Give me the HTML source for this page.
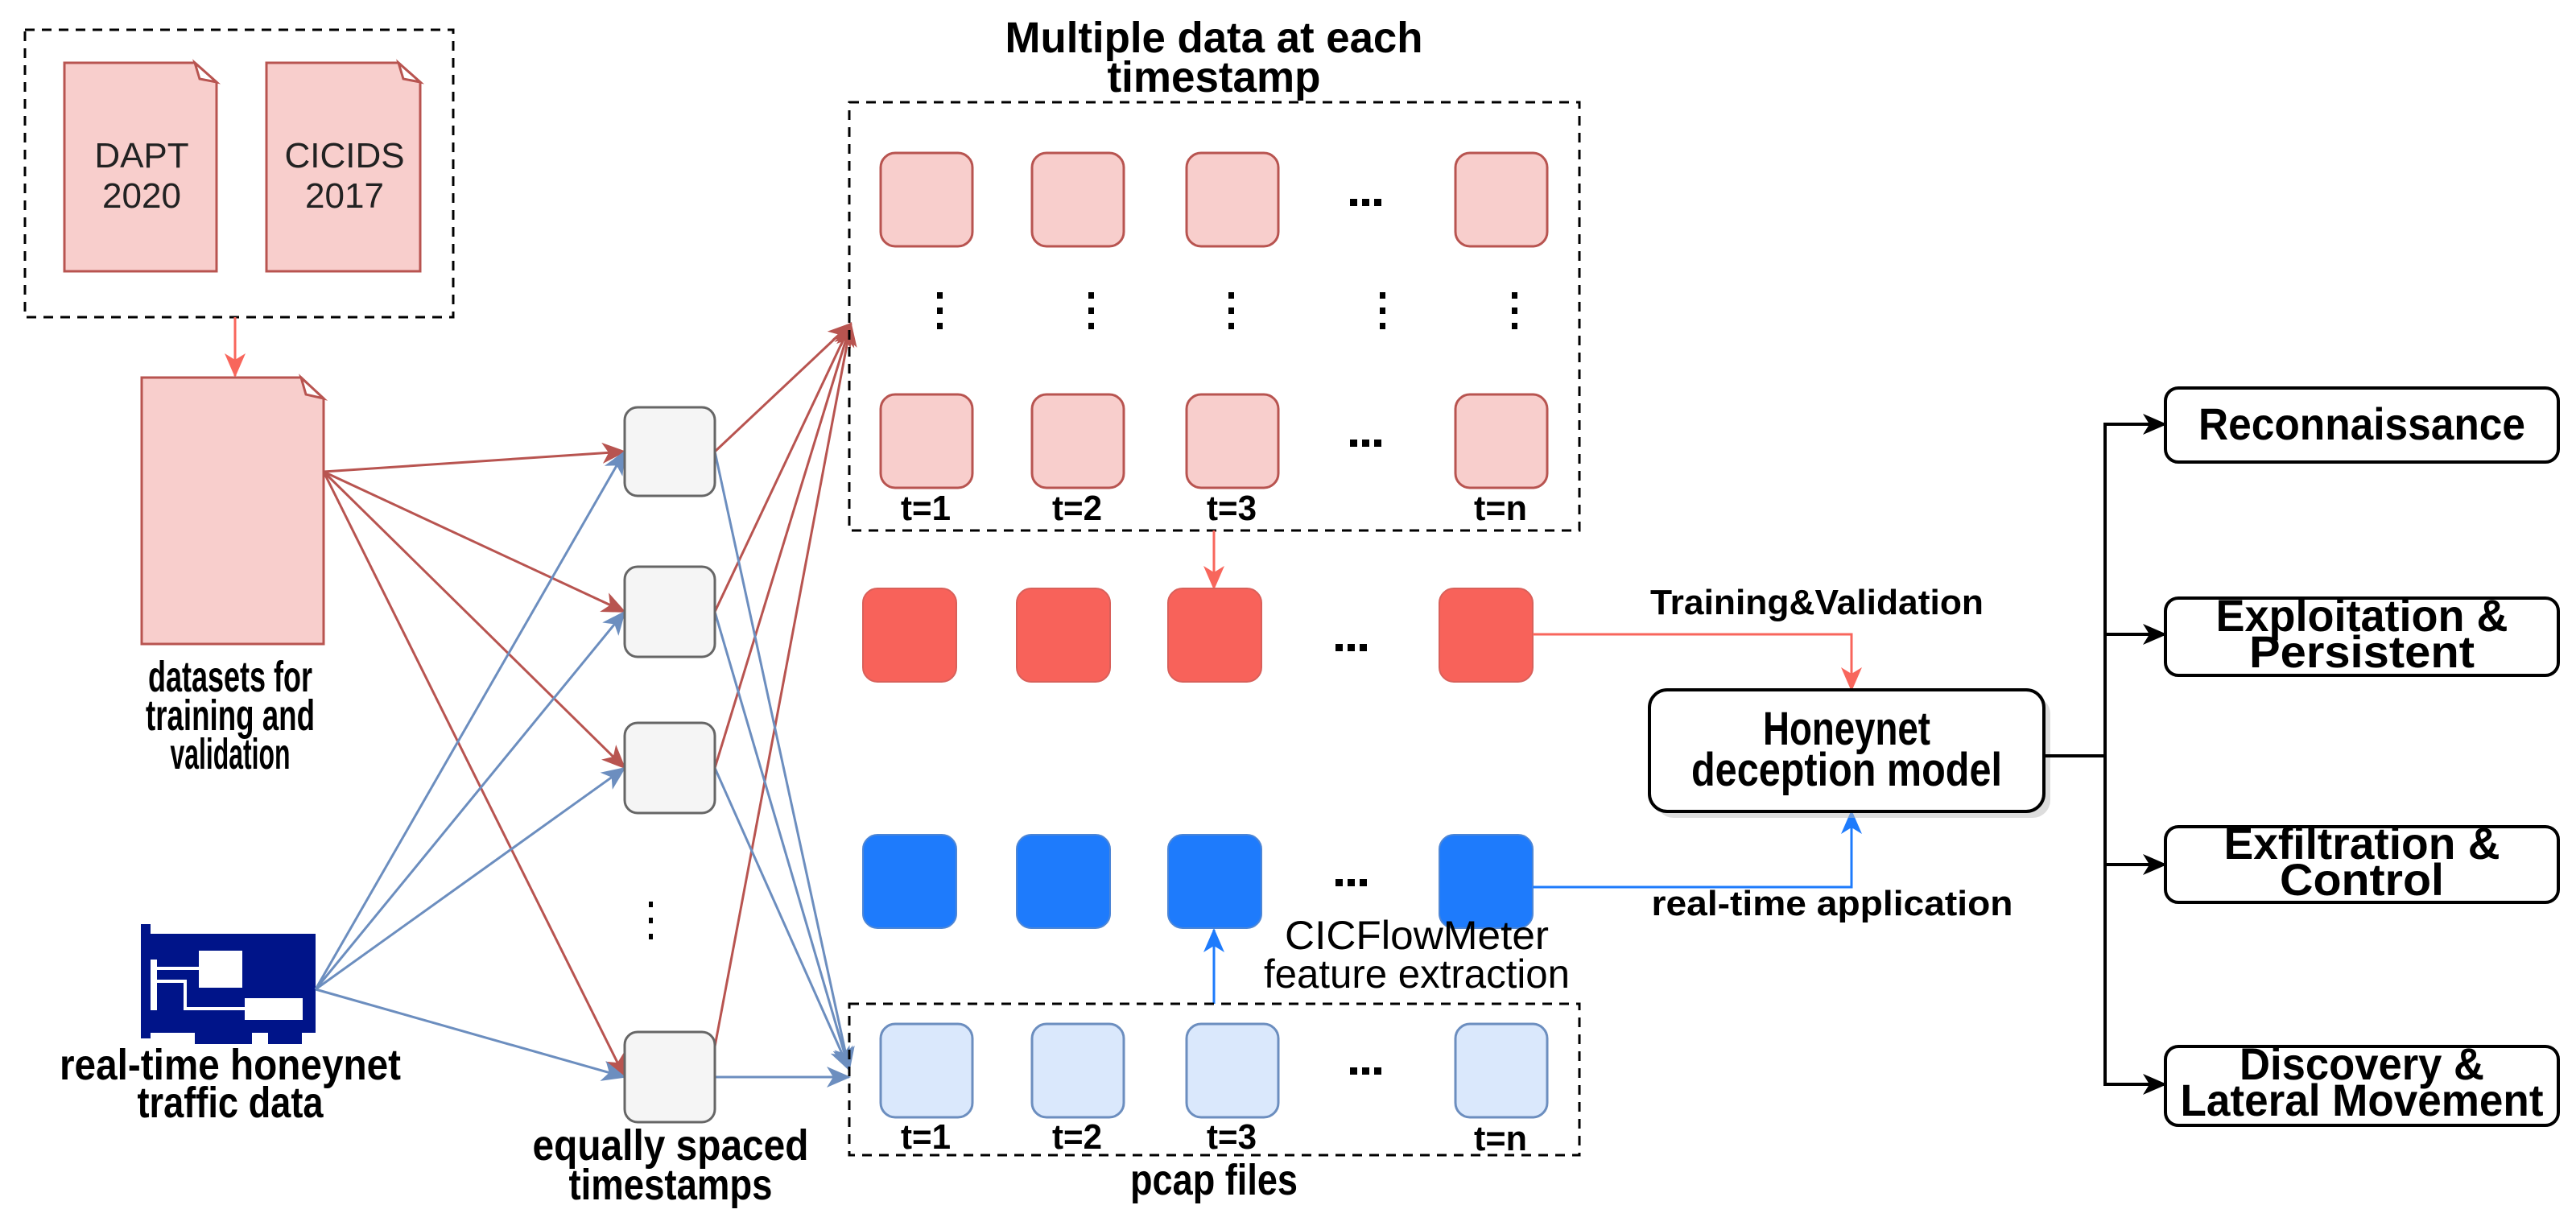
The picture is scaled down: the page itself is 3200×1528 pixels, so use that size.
<!DOCTYPE html>
<html><head><meta charset="utf-8"><style>
html,body{margin:0;padding:0;background:#fff;}
svg{display:block;}
text{font-family:"Liberation Sans",sans-serif;}
.b{font-weight:bold;}
</style></head><body>
<svg width="3200" height="1528" viewBox="0 0 3200 1528" xmlns="http://www.w3.org/2000/svg">
<defs>
<marker id="ar" markerWidth="30" markerHeight="26" refX="28" refY="13" orient="auto" markerUnits="userSpaceOnUse" viewBox="0 0 30 26"><path d="M0,0 L30,13 L0,26 L8,13 Z" fill="#b85450"/></marker>
<marker id="ab" markerWidth="30" markerHeight="26" refX="28" refY="13" orient="auto" markerUnits="userSpaceOnUse" viewBox="0 0 30 26"><path d="M0,0 L30,13 L0,26 L8,13 Z" fill="#6c8ebf"/></marker>
<marker id="arl" markerWidth="30" markerHeight="26" refX="28" refY="13" orient="auto" markerUnits="userSpaceOnUse" viewBox="0 0 30 26"><path d="M0,0 L30,13 L0,26 L8,13 Z" fill="#f8665c"/></marker>
<marker id="abl" markerWidth="30" markerHeight="26" refX="28" refY="13" orient="auto" markerUnits="userSpaceOnUse" viewBox="0 0 30 26"><path d="M0,0 L30,13 L0,26 L8,13 Z" fill="#1e7bfc"/></marker>
<marker id="ak" markerWidth="30" markerHeight="26" refX="28" refY="13" orient="auto" markerUnits="userSpaceOnUse" viewBox="0 0 30 26"><path d="M0,0 L30,13 L0,26 L8,13 Z" fill="#000"/></marker>
</defs>

<rect x="31" y="37" width="532" height="357" fill="none" stroke="#000" stroke-width="3" stroke-dasharray="12,9"/>
<path d="M80,78 H242 L269,102 V337 H80 Z" fill="#f8cecc" stroke="#b85450" stroke-width="3"/>
<path d="M242,78 L269,102 L248,98 Z" fill="#fff" stroke="#b85450" stroke-width="3"/>
<path d="M331,78 H495 L522,102 V337 H331 Z" fill="#f8cecc" stroke="#b85450" stroke-width="3"/>
<path d="M495,78 L522,102 L501,98 Z" fill="#fff" stroke="#b85450" stroke-width="3"/>
<text x="176" y="208" font-size="44" text-anchor="middle" fill="#222">DAPT</text>
<text x="176" y="258" font-size="44" text-anchor="middle" fill="#222">2020</text>
<text x="428" y="208" font-size="44" text-anchor="middle" fill="#222">CICIDS</text>
<text x="428" y="258" font-size="44" text-anchor="middle" fill="#222">2017</text>
<line x1="292" y1="394" x2="292" y2="467" stroke="#f8665c" stroke-width="3" marker-end="url(#arl)"/>

<path d="M176,469 H374 L402,495 V800 H176 Z" fill="#f8cecc" stroke="#b85450" stroke-width="3"/>
<path d="M374,469 L402,495 L380,490 Z" fill="#fff" stroke="#b85450" stroke-width="3"/>
<text class="b" x="286" y="859" font-size="54" text-anchor="middle" textLength="204" lengthAdjust="spacingAndGlyphs">datasets for</text>
<text class="b" x="286" y="907" font-size="54" text-anchor="middle" textLength="210" lengthAdjust="spacingAndGlyphs">training and</text>
<text class="b" x="286" y="955" font-size="54" text-anchor="middle" textLength="149" lengthAdjust="spacingAndGlyphs">validation</text>

<g fill="#001489">
<rect x="175" y="1148" width="12" height="142"/>
<rect x="187" y="1160" width="205" height="123"/>
<rect x="242" y="1280" width="71" height="17"/>
<rect x="333" y="1280" width="42" height="17"/>
</g>
<g fill="#fff">
<rect x="247" y="1181" width="54" height="46"/>
<rect x="304" y="1240" width="72" height="27"/>
<rect x="187" y="1192" width="8" height="63"/>
<rect x="195" y="1201" width="52" height="4"/>
<rect x="195" y="1217" width="37" height="4"/>
<rect x="228" y="1217" width="4" height="38"/>
<rect x="228" y="1251" width="76" height="4"/>
</g>
<text class="b" x="286" y="1341" font-size="54" text-anchor="middle" textLength="424" lengthAdjust="spacingAndGlyphs">real-time honeynet</text>
<text class="b" x="286" y="1388" font-size="54" text-anchor="middle" textLength="231" lengthAdjust="spacingAndGlyphs">traffic data</text>

<g stroke="#b85450" stroke-width="3" fill="none">
<line x1="402" y1="586" x2="776" y2="561" marker-end="url(#ar)"/>
<line x1="402" y1="586" x2="776" y2="760" marker-end="url(#ar)"/>
<line x1="402" y1="586" x2="776" y2="954" marker-end="url(#ar)"/>
<line x1="402" y1="586" x2="776" y2="1338" marker-end="url(#ar)"/>
</g>
<g stroke="#6c8ebf" stroke-width="3" fill="none">
<line x1="392" y1="1229" x2="776" y2="561" marker-end="url(#ab)"/>
<line x1="392" y1="1229" x2="776" y2="760" marker-end="url(#ab)"/>
<line x1="392" y1="1229" x2="776" y2="954" marker-end="url(#ab)"/>
<line x1="392" y1="1229" x2="776" y2="1338" marker-end="url(#ab)"/>
</g>
<g stroke="#b85450" stroke-width="3" fill="none">
<line x1="888" y1="561" x2="1057" y2="402" marker-end="url(#ar)"/>
<line x1="888" y1="760" x2="1057" y2="402" marker-end="url(#ar)"/>
<line x1="888" y1="954" x2="1057" y2="402" marker-end="url(#ar)"/>
<line x1="888" y1="1300" x2="1057" y2="402" marker-end="url(#ar)"/>
</g>
<g stroke="#6c8ebf" stroke-width="3" fill="none">
<line x1="888" y1="561" x2="1055" y2="1329" marker-end="url(#ab)"/>
<line x1="888" y1="760" x2="1055" y2="1329" marker-end="url(#ab)"/>
<line x1="888" y1="954" x2="1055" y2="1329" marker-end="url(#ab)"/>
<line x1="888" y1="1338" x2="1055" y2="1338" marker-end="url(#ab)"/>
</g>

<g fill="#f5f5f5" stroke="#666" stroke-width="3">
<rect x="776" y="506" width="112" height="110" rx="16"/>
<rect x="776" y="704" width="112" height="112" rx="16"/>
<rect x="776" y="898" width="112" height="112" rx="16"/>
<rect x="776" y="1282" width="112" height="112" rx="16"/>
</g>
<g fill="#000"><rect x="806" y="1120" width="5" height="7"/><rect x="806" y="1140" width="5" height="7"/><rect x="806" y="1160" width="5" height="7"/></g>
<text class="b" x="833" y="1441" font-size="54" text-anchor="middle" textLength="343" lengthAdjust="spacingAndGlyphs">equally spaced</text>
<text class="b" x="833" y="1490" font-size="54" text-anchor="middle" textLength="253" lengthAdjust="spacingAndGlyphs">timestamps</text>

<text class="b" x="1508" y="65" font-size="54" text-anchor="middle" textLength="519" lengthAdjust="spacingAndGlyphs">Multiple data at each</text>
<text class="b" x="1508" y="114" font-size="54" text-anchor="middle" textLength="265" lengthAdjust="spacingAndGlyphs">timestamp</text>
<rect x="1055" y="127" width="907" height="532" fill="none" stroke="#000" stroke-width="3" stroke-dasharray="12,9"/>
<g fill="#f8cecc" stroke="#b85450" stroke-width="3">
<rect x="1094" y="190" width="114" height="116" rx="18"/><rect x="1282" y="190" width="114" height="116" rx="18"/><rect x="1474" y="190" width="114" height="116" rx="18"/><rect x="1808" y="190" width="114" height="116" rx="18"/>
<rect x="1094" y="490" width="114" height="116" rx="18"/><rect x="1282" y="490" width="114" height="116" rx="18"/><rect x="1474" y="490" width="114" height="116" rx="18"/><rect x="1808" y="490" width="114" height="116" rx="18"/>
</g>
<g fill="#000">
<rect x="1677" y="247" width="9" height="9"/><rect x="1692" y="247" width="9" height="9"/><rect x="1707" y="247" width="9" height="9"/>
<rect x="1677" y="546" width="9" height="9"/><rect x="1692" y="546" width="9" height="9"/><rect x="1707" y="546" width="9" height="9"/>
</g>
<g fill="#000">
<rect x="1164" y="363" width="7" height="8"/><rect x="1164" y="382" width="7" height="8"/><rect x="1164" y="401" width="7" height="8"/>
<rect x="1352" y="363" width="7" height="8"/><rect x="1352" y="382" width="7" height="8"/><rect x="1352" y="401" width="7" height="8"/>
<rect x="1526" y="363" width="7" height="8"/><rect x="1526" y="382" width="7" height="8"/><rect x="1526" y="401" width="7" height="8"/>
<rect x="1714" y="363" width="7" height="8"/><rect x="1714" y="382" width="7" height="8"/><rect x="1714" y="401" width="7" height="8"/>
<rect x="1878" y="363" width="7" height="8"/><rect x="1878" y="382" width="7" height="8"/><rect x="1878" y="401" width="7" height="8"/>
</g>
<g font-size="44" text-anchor="middle">
<text class="b" x="1150" y="646" textLength="62" lengthAdjust="spacingAndGlyphs">t=1</text><text class="b" x="1338" y="646" textLength="62" lengthAdjust="spacingAndGlyphs">t=2</text><text class="b" x="1530" y="646" textLength="62" lengthAdjust="spacingAndGlyphs">t=3</text><text class="b" x="1864" y="646" textLength="66" lengthAdjust="spacingAndGlyphs">t=n</text>
</g>
<line x1="1508" y1="659" x2="1508" y2="731" stroke="#f8665c" stroke-width="3" marker-end="url(#arl)"/>

<g fill="#f8625a" stroke="#d9605a" stroke-width="2">
<rect x="1072" y="731" width="116" height="116" rx="18"/><rect x="1263" y="731" width="116" height="116" rx="18"/><rect x="1451" y="731" width="116" height="116" rx="18"/><rect x="1788" y="731" width="116" height="116" rx="18"/>
</g>
<g fill="#000"><rect x="1659" y="800" width="9" height="9"/><rect x="1674" y="800" width="9" height="9"/><rect x="1689" y="800" width="9" height="9"/></g>
<g fill="#1e7bfc" stroke="#4d86d6" stroke-width="2">
<rect x="1072" y="1037" width="116" height="116" rx="18"/><rect x="1263" y="1037" width="116" height="116" rx="18"/><rect x="1451" y="1037" width="116" height="116" rx="18"/><rect x="1788" y="1037" width="116" height="116" rx="18"/>
</g>
<g fill="#000"><rect x="1659" y="1092" width="9" height="9"/><rect x="1674" y="1092" width="9" height="9"/><rect x="1689" y="1092" width="9" height="9"/></g>
<line x1="1508" y1="1247" x2="1508" y2="1155" stroke="#1e7bfc" stroke-width="3" marker-end="url(#abl)"/>
<text x="1760" y="1179" font-size="50" text-anchor="middle" textLength="328" lengthAdjust="spacingAndGlyphs">CICFlowMeter</text>
<text x="1760" y="1227" font-size="50" text-anchor="middle" textLength="380" lengthAdjust="spacingAndGlyphs">feature extraction</text>

<rect x="1055" y="1247" width="907" height="188" fill="none" stroke="#000" stroke-width="3" stroke-dasharray="12,9"/>
<g fill="#dae8fc" stroke="#6c8ebf" stroke-width="3">
<rect x="1094" y="1272" width="114" height="116" rx="18"/><rect x="1282" y="1272" width="114" height="116" rx="18"/><rect x="1474" y="1272" width="114" height="116" rx="18"/><rect x="1808" y="1272" width="114" height="116" rx="18"/>
</g>
<g fill="#000"><rect x="1677" y="1326" width="9" height="9"/><rect x="1692" y="1326" width="9" height="9"/><rect x="1707" y="1326" width="9" height="9"/></g>
<g font-size="44" text-anchor="middle">
<text class="b" x="1150" y="1427" textLength="62" lengthAdjust="spacingAndGlyphs">t=1</text><text class="b" x="1338" y="1427" textLength="62" lengthAdjust="spacingAndGlyphs">t=2</text><text class="b" x="1530" y="1427" textLength="62" lengthAdjust="spacingAndGlyphs">t=3</text><text class="b" x="1864" y="1429" textLength="66" lengthAdjust="spacingAndGlyphs">t=n</text>
</g>
<text class="b" x="1508" y="1484" font-size="54" text-anchor="middle" textLength="208" lengthAdjust="spacingAndGlyphs">pcap files</text>

<polyline points="1904,788 2300,788 2300,857" fill="none" stroke="#f8665c" stroke-width="3" marker-end="url(#arl)"/>
<polyline points="1904,1102 2300,1102 2300,1008" fill="none" stroke="#1e7bfc" stroke-width="3" marker-end="url(#abl)"/>
<text class="b" x="2257" y="763" font-size="44" text-anchor="middle" textLength="414" lengthAdjust="spacingAndGlyphs">Training&amp;Validation</text>
<text class="b" x="2276" y="1137" font-size="44" text-anchor="middle" textLength="449" lengthAdjust="spacingAndGlyphs">real-time application</text>

<rect x="2057" y="865" width="490" height="151" rx="22" fill="#bbb" opacity="0.5"/>
<rect x="2049" y="857" width="490" height="151" rx="22" fill="#fff" stroke="#000" stroke-width="4"/>
<text class="b" x="2294" y="925" font-size="58" text-anchor="middle" textLength="208" lengthAdjust="spacingAndGlyphs">Honeynet</text>
<text class="b" x="2294" y="976" font-size="58" text-anchor="middle" textLength="386" lengthAdjust="spacingAndGlyphs">deception model</text>

<g stroke="#000" stroke-width="4" fill="none">
<line x1="2539" y1="939" x2="2615" y2="939"/>
<line x1="2615" y1="527" x2="2615" y2="1347"/>
<line x1="2613" y1="527" x2="2690" y2="527" marker-end="url(#ak)"/>
<line x1="2613" y1="788" x2="2690" y2="788" marker-end="url(#ak)"/>
<line x1="2613" y1="1074" x2="2690" y2="1074" marker-end="url(#ak)"/>
<line x1="2613" y1="1347" x2="2690" y2="1347" marker-end="url(#ak)"/>
</g>
<g fill="#fff" stroke="#000" stroke-width="4">
<rect x="2690" y="482" width="488" height="92" rx="16"/>
<rect x="2690" y="743" width="488" height="96" rx="16"/>
<rect x="2690" y="1027" width="488" height="94" rx="16"/>
<rect x="2690" y="1300" width="488" height="98" rx="16"/>
</g>
<g font-size="56" text-anchor="middle">
<text class="b" x="2934" y="546" textLength="406" lengthAdjust="spacingAndGlyphs">Reconnaissance</text>
<text class="b" x="2934" y="784" textLength="363" lengthAdjust="spacingAndGlyphs">Exploitation &amp;</text>
<text class="b" x="2934" y="829" textLength="280" lengthAdjust="spacingAndGlyphs">Persistent</text>
<text class="b" x="2934" y="1067" textLength="343" lengthAdjust="spacingAndGlyphs">Exfiltration &amp;</text>
<text class="b" x="2934" y="1112" textLength="204" lengthAdjust="spacingAndGlyphs">Control</text>
<text class="b" x="2934" y="1341" textLength="304" lengthAdjust="spacingAndGlyphs">Discovery &amp;</text>
<text class="b" x="2934" y="1386" textLength="451" lengthAdjust="spacingAndGlyphs">Lateral Movement</text>
</g>
</svg>
</body></html>
